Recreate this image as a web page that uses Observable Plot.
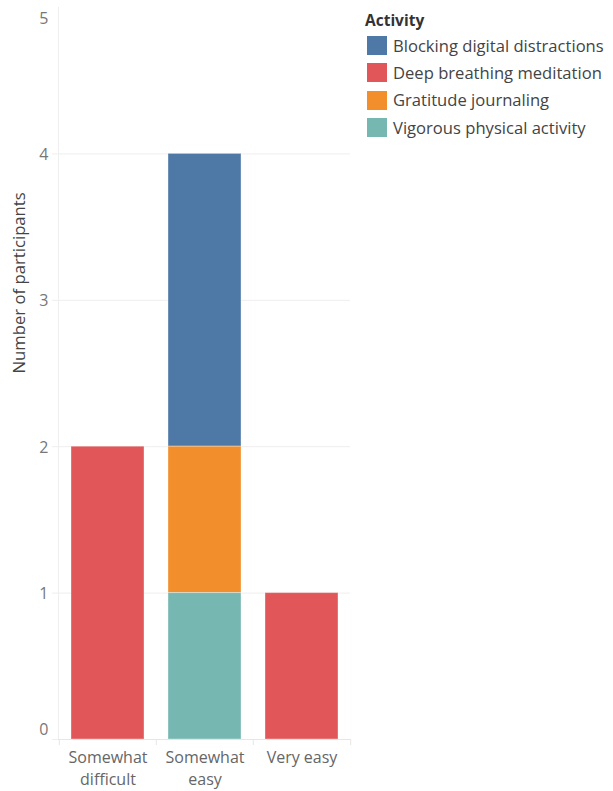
<!DOCTYPE html>
<html>
<head>
<meta charset="utf-8">
<script src="https://cdn.jsdelivr.net/npm/d3@7"></script>
<script src="https://cdn.jsdelivr.net/npm/@observablehq/plot@0.6"></script>
<style>
  html, body { margin: 0; padding: 0; background: #fff; overflow: hidden; }
  #wrap { position: relative; width: 613px; height: 791px; font-family: "Open Sans", Lato, sans-serif; }
  #chart svg { display: block; }
  #legend { position: absolute; left: 365px; top: 9px; color: #333; }
  #legend .title { font-weight: bold; font-size: 15.5px; height: 23px; line-height: 23px; }
  #legend .row { display: flex; align-items: center; height: 27.3px; line-height: 20px; font-size: 16.6px; color: #444; white-space: nowrap; }
  #legend .sw { width: 20px; height: 19px; margin-left: 2px; margin-right: 6px; flex: none; }
</style>
</head>
<body>
<div id="wrap"><div id="chart"></div><div id="legend"></div></div>
<script>
const categories = ["Somewhat difficult", "Somewhat easy", "Very easy"];
const categoryLabels = ["Somewhat\ndifficult", "Somewhat\neasy", "Very easy"];
const activities = ["Blocking digital distractions", "Deep breathing meditation", "Gratitude journaling", "Vigorous physical activity"];
const activityColors = ["#4e79a7", "#e15759", "#f28e2b", "#76b7b2"];
const stackOrder = ["Vigorous physical activity", "Gratitude journaling", "Deep breathing meditation", "Blocking digital distractions"];
// counts per category, one array per activity
const blockingCounts = [0, 2, 0];
const deepBreathingCounts = [2, 0, 1];
const gratitudeCounts = [0, 1, 0];
const vigorousCounts = [0, 1, 0];
const yTicks = [0, 1, 2, 3, 4, 5];

const series = [blockingCounts, deepBreathingCounts, gratitudeCounts, vigorousCounts];
const data = [];
activities.forEach((a, i) => categories.forEach((c, j) => {
  if (series[i][j] > 0) data.push({activity: a, category: c, count: series[i][j]});
}));

const labelOf = new Map(categories.map((c, i) => [c, categoryLabels[i]]));
const FONT = "'Open Sans', Lato, sans-serif";
const fmt = d => String(d);

const chart = Plot.plot({
  width: 613,
  height: 791,
  marginLeft: 58,
  marginRight: 263,
  marginTop: 7,
  marginBottom: 52,
  style: { fontFamily: FONT, background: "#fff" },
  x: { domain: categories, paddingInner: 0.25, paddingOuter: 0.125 },
  y: { domain: [0, 5] },
  color: { domain: activities, range: activityColors },
  marks: [
    Plot.gridY(yTicks.filter(d => d > 0 && d < 5), { stroke: "#eeeeee", strokeOpacity: 1 }),
    Plot.frame({ anchor: "left", stroke: "#eeeeee", strokeOpacity: 1 }),
    Plot.barY(data, Plot.stackY({
      x: "category", y: "count", fill: "activity",
      order: stackOrder, stroke: "#fff", strokeOpacity: 0.35, strokeWidth: 1
    })),
    Plot.ruleY([0], { stroke: "#e6e6e6" }),
    // band separator ticks below the zero line
    Plot.axisX({ ticks: categories, tickSize: 6, dx: -48.7, stroke: "#e6e6e6", tickFormat: () => "", label: null }),
    Plot.axisX({ ticks: [categories[2]], tickSize: 6, dx: 48.7, stroke: "#e6e6e6", tickFormat: () => "", label: null }),
    // category labels
    Plot.axisX({ ticks: categories, tickSize: 0, tickPadding: 8, fontSize: 16, tickFormat: d => labelOf.get(d), lineHeight: 1.375, fill: "#666", label: null }),
    // y tick labels (Tableau keeps end labels inside the plot)
    Plot.axisY({ ticks: yTicks.slice(1, 5), tickSize: 0, tickPadding: 10, dy: 1, fontSize: 16, fill: "#777", tickFormat: fmt, label: null }),
    Plot.axisY({ ticks: [yTicks[0]], tickSize: 0, tickPadding: 10, dy: -10, fontSize: 16, fill: "#777", tickFormat: fmt, label: null }),
    Plot.axisY({ ticks: [yTicks[5]], tickSize: 0, tickPadding: 10, dy: 11, fontSize: 16, fill: "#777", tickFormat: fmt, label: null }),
    // short tick stubs to left of gridlines
    Plot.axisY({ ticks: yTicks.slice(0, 5), tickSize: 6, stroke: "#eeeeee", tickFormat: () => "", label: null }),
    Plot.text(["Number of participants"], { frameAnchor: "left", dx: -39, rotate: -90, fontSize: 16.7, fill: "#444" })
  ]
});
document.getElementById("chart").appendChild(chart);

// legend (HTML, outside the SVG)
const legend = document.getElementById("legend");
const t = document.createElement("div");
t.className = "title"; t.textContent = "Activity";
legend.appendChild(t);
activities.forEach((a, i) => {
  const row = document.createElement("div"); row.className = "row";
  const sw = document.createElement("div"); sw.className = "sw"; sw.style.background = activityColors[i];
  const lab = document.createElement("span"); lab.textContent = a;
  row.appendChild(sw); row.appendChild(lab); legend.appendChild(row);
});
</script>
</body>
</html>
